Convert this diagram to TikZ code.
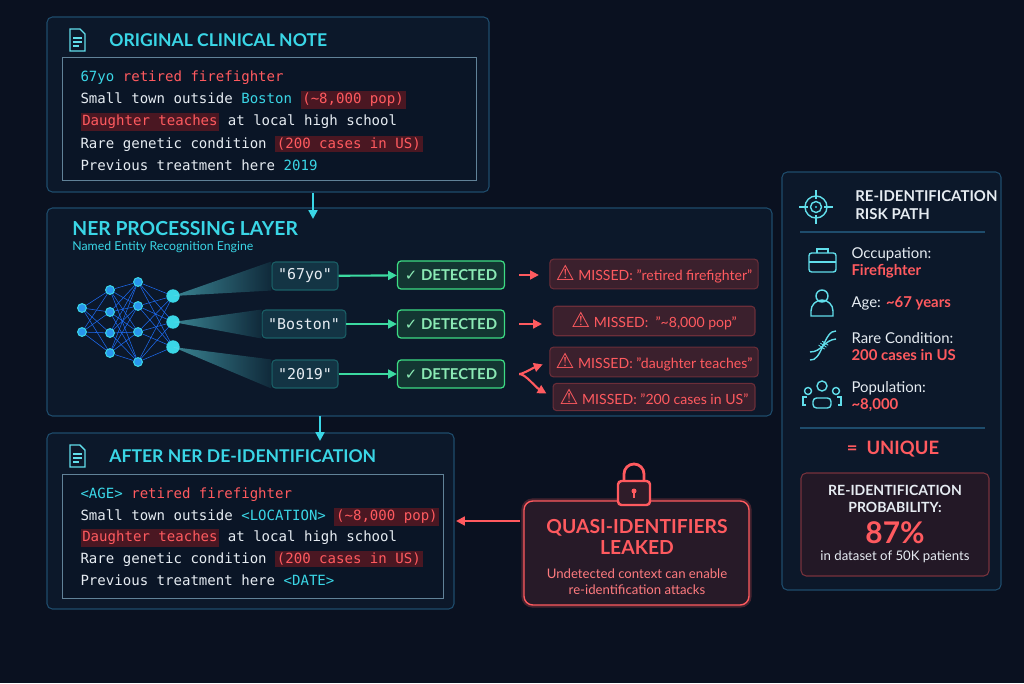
\documentclass[tikz,border=0pt]{standalone}
\usepackage{fontspec}
\setmainfont{Lato}
\setmonofont{DejaVu Sans Mono}
\newfontfamily\symfont{DejaVu Sans}
\usetikzlibrary{positioning,arrows.meta,shadings,calc}

\definecolor{bgnavy}{HTML}{0A1120}
\definecolor{boxfill}{HTML}{0C182A}
\definecolor{boxline}{HTML}{1E4C6C}
\definecolor{innerfill}{HTML}{0A1526}
\definecolor{ncyan}{HTML}{3AD6E6}
\definecolor{nred}{HTML}{FF5A5F}
\definecolor{hlred}{HTML}{4A1722}
\definecolor{ngreen}{HTML}{3DDC84}
\definecolor{ntext}{HTML}{E6ECF2}

\newcommand{\redhl}[1]{{\setlength{\fboxsep}{1pt}\colorbox{hlred}{\textcolor{nred}{#1}}}}
\newcommand{\cy}[1]{\textcolor{ncyan}{#1}}
\newcommand{\rd}[1]{\textcolor{nred}{#1}}

\begin{document}
\begin{tikzpicture}[
    x = 0.02cm, y = -0.02cm, % pixel grid, y going down
    > = {Triangle[length=5pt,width=5pt]},
    semithick
  ]

  \tikzstyle{panel} = [draw = boxline, fill = boxfill, rounded corners = 3pt, line width = 0.6pt]
  \tikzstyle{inner} = [draw = boxline!70, fill = innerfill, line width = 0.4pt]
  \tikzstyle{title} = [anchor = west, text = ncyan, font = \fontsize{10}{12}\selectfont\bfseries]
  \tikzstyle{code} = [anchor = west, inner sep = 0pt, text = ntext, font = \ttfamily\fontsize{8}{10}\selectfont]
  \tikzstyle{token} = [draw = ncyan!45!black, fill = ncyan!18!bgnavy, rounded corners = 2pt,
      text = ntext, font = \ttfamily\fontsize{8.5}{10}\selectfont, minimum height = 0.56cm, minimum width = 1.32cm]
  \tikzstyle{detected} = [draw = ngreen, fill = ngreen!18!bgnavy, rounded corners = 2pt, line width = 0.7pt,
      text = ngreen!60!white, font = \fontsize{8.5}{10}\selectfont\bfseries, minimum height = 0.56cm, minimum width = 2.14cm]
  \tikzstyle{missed} = [draw = nred!40!bgnavy, fill = nred!20!bgnavy, rounded corners = 2pt,
      text = nred, font = \fontsize{8}{10}\selectfont, minimum height = 0.5cm, minimum width = 4.04cm]
  \tikzstyle{neuron} = [circle, fill = ncyan!70!blue, draw = ncyan, inner sep = 0pt, minimum size = 5pt]
  \tikzstyle{flow} = [->, ncyan, line width = 1.2pt]
  \tikzstyle{leak} = [->, nred, line width = 1.2pt]
  \tikzstyle{icon} = [ncyan!80!white, line width = 0.8pt]
  \tikzstyle{label} = [anchor = west, text = ntext, font = \fontsize{8.5}{10}\selectfont, inner sep = 0pt]
  \tikzstyle{value} = [anchor = west, text = nred, font = \fontsize{8.5}{10}\selectfont\bfseries, inner sep = 0pt]

  % background
  \fill[bgnavy] (0,0) rectangle (1024,683);
  \useasboundingbox (0,0) rectangle (1024,683);

  % original note
  \draw[panel] (47,17) rectangle (489,192);
  \draw[icon] (70,29) -- (80,29) -- (85,34) -- (85,51) -- (70,51) -- cycle;
  \draw[icon] (73,38) -- (82,38) (73,42) -- (82,42) (73,46) -- (79,46);
  \node[title] (notetitle) at (103,40) {ORIGINAL CLINICAL NOTE};
  \draw[inner] (62,57) rectangle (476,180);
  \node[code] (n1) at (80,78) {\cy{67yo} \rd{retired firefighter}};
  \node[code] (n2) at (80,100) {Small town outside \cy{Boston} \redhl{(\textasciitilde8,000 pop)}};
  \node[code] (n3) at (80,122) {\redhl{Daughter teaches} at local high school};
  \node[code] (n4) at (80,144) {Rare genetic condition \redhl{(200 cases in US)}};
  \node[code] (n5) at (80,165) {Previous treatment here \cy{2019}};

  % NER layer
  \draw[panel] (47,208) rectangle (772,416);
  \node[title, font = \fontsize{11}{13}\selectfont\bfseries] (nertitle) at (66,229) {NER PROCESSING LAYER};
  \node[anchor = west, text = ncyan, font = \fontsize{7}{9}\selectfont] (nersub) at (66,247) {Named Entity Recognition Engine};

  \coordinate (noteout) at (313,193);
  \coordinate (nerin) at (313,219);
  \draw[flow] (noteout) -- (nerin);

  % network
  \foreach \i/\y in {1/308, 2/332} \node[neuron] (a\i) at (82,\y) {};
  \foreach \i/\y in {1/290, 2/312, 3/333, 4/353} \node[neuron] (b\i) at (110,\y) {};
  \foreach \i/\y in {1/282, 2/306, 3/332, 4/362} \node[neuron] (c\i) at (138,\y) {};
  \foreach \i/\y in {1/296, 2/322, 3/347} \node[neuron, minimum size = 7pt, fill = ncyan] (d\i) at (173,\y) {};
  \foreach \i in {1,2} \foreach \j in {1,...,4} \draw[ncyan!50!blue, line width = 0.3pt] (a\i) -- (b\j);
  \foreach \i in {1,...,4} \foreach \j in {1,...,4} \draw[ncyan!50!blue, line width = 0.3pt] (b\i) -- (c\j);
  \foreach \i in {1,...,4} \foreach \j in {1,2,3} \draw[ncyan!50!blue, line width = 0.3pt] (c\i) -- (d\j);

  \node[token] (t1) at (305,276) {"67yo"};
  \node[token, minimum width = 1.56cm] (t2) at (304,324) {"Boston"};
  \node[token] (t3) at (305,374) {"2019"};

  \foreach \i in {1,2,3}
    \shade[left color = ncyan!80, right color = ncyan!20!bgnavy, opacity = 0.55]
      (d\i.center) -- (t\i.north west) -- (t\i.south west) -- cycle;

  \node[detected] (k1) at (451,275) {{\symfont ✓} DETECTED};
  \node[detected] (k2) at (451,324) {{\symfont ✓} DETECTED};
  \node[detected] (k3) at (451,374) {{\symfont ✓} DETECTED};
  \foreach \i in {1,2,3} \draw[flow, ngreen!70!ncyan] (t\i) -- (k\i);

  \node[missed] (m1) at (654,274) {{\symfont\large ⚠} MISSED: "retired firefighter"};
  \node[missed] (m2) at (654,321) {{\symfont\large ⚠} MISSED: \ "\textasciitilde8,000 pop"};
  \node[missed] (m3) at (654,362) {{\symfont\large ⚠} MISSED: "daughter teaches"};
  \node[missed] (m4) at (654,397) {{\symfont\large ⚠} MISSED: "200 cases in US"};
  \draw[leak, shorten < = 8pt, shorten > = 6pt] (k1) -- (m1.west |- k1);
  \draw[leak, shorten < = 8pt, shorten > = 6pt] (k2) -- (m2.west |- k2);
  \draw[leak, shorten < = 8pt, shorten > = 4pt] (k3.east) to[out = 0, in = 200] (m3.west);
  \draw[leak, shorten < = 8pt, shorten > = 4pt] (k3.east) to[out = 0, in = 150] (m4.west);

  % after de-identification
  \draw[panel] (47,433) rectangle (454,609);
  \draw[icon] (70,445) -- (80,445) -- (85,450) -- (85,467) -- (70,467) -- cycle;
  \draw[icon] (73,454) -- (82,454) (73,458) -- (82,458) (73,462) -- (79,462);
  \node[title] (aftertitle) at (103,456) {AFTER NER DE-IDENTIFICATION};
  \draw[inner] (62,474) rectangle (443,598);
  \node[code] (r1) at (80,495) {\cy{<AGE>} \rd{retired firefighter}};
  \node[code] (r2) at (80,517) {Small town outside \cy{<LOCATION>} \redhl{(\textasciitilde8,000 pop)}};
  \node[code] (r3) at (80,538) {\redhl{Daughter teaches} at local high school};
  \node[code] (r4) at (80,559) {Rare genetic condition \redhl{(200 cases in US)}};
  \node[code] (r5) at (80,580) {Previous treatment here \cy{<DATE>}};

  \coordinate (nerout) at (320,416);
  \coordinate (afterin) at (320,441);
  \draw[flow] (nerout) -- (afterin);

  % leak box
  \draw[nred, line width = 3pt, opacity = 0.25, rounded corners = 5pt] (524,501) rectangle (749,605);
  \draw[nred, fill = nred!12!bgnavy, line width = 0.8pt, rounded corners = 5pt] (524,501) rectangle (749,605);
  \node[text = nred, font = \fontsize{11}{12}\selectfont\bfseries, align = center] (leaktitle) at (637,537) {QUASI-IDENTIFIERS\\LEAKED};
  \node[text = nred!80!white, font = \fontsize{7.5}{9}\selectfont, align = center] (leaksub) at (637,582) {Undetected context can enable\\re-identification attacks};
  \draw[nred, line width = 1.6pt] (624,482) -- (624,474) arc[start angle = 180, end angle = 360, radius = 10] -- (644,482);
  \draw[nred, line width = 1.4pt, fill = nred!15!bgnavy, rounded corners = 2pt] (618,481) rectangle (650,505);
  \fill[nred] (634,491) circle (2.5);
  \draw[nred, line width = 1.2pt] (634,492) -- (634,498);
  \coordinate (leakin) at (520,521);
  \coordinate (afterout) at (456,521);
  \draw[leak] (leakin) -- (afterout);

  % risk path
  \draw[panel] (782,172) rectangle (1001,590);
  \draw[icon] (816,207) circle (11) (816,207) circle (5.5);
  \fill[ncyan] (816,207) circle (1.2);
  \draw[icon] (799,207) -- (808,207) (824,207) -- (833,207) (816,190) -- (816,199) (816,215) -- (816,224);
  \node[anchor = west, text = ntext, font = \fontsize{8.5}{10.5}\selectfont\bfseries, align = left] (risktitle) at (849,205) {RE-IDENTIFICATION\\RISK PATH};
  \draw[boxline] (800,232) -- (985,232);

  % briefcase
  \draw[icon, rounded corners = 1.5pt] (809,253) rectangle (836,272);
  \draw[icon] (809,262) -- (836,262) (817,253) -- (817,249) -- (828,249) -- (828,253);
  \node[label] (occ) at (851,254) {Occupation:};
  \node[value] (occv) at (851,271) {Firefighter};
  % person
  \draw[icon] (822,296) circle (6);
  \draw[icon] (811,316) -- (811,311) arc[start angle = 180, end angle = 360, radius = 11] -- (833,316) -- cycle;
  \node[label] (age) at (851,303) {Age: \textcolor{nred}{\bfseries \textasciitilde67 years}};
  % dna
  \draw[icon] (810,360) .. controls (822,362) and (824,330) .. (836,331);
  \draw[icon] (810,352) .. controls (822,352) and (824,340) .. (836,339);
  \foreach \t in {0.3,0.45,0.6} \draw[icon, line width = 0.5pt] ($(818,351)!\t!(830,338)$) ++(-3,-2) -- ++(6,4);
  \node[label] (rare) at (851,338) {Rare Condition:};
  \node[value] (rarev) at (851,355) {200 cases in US};
  % people
  \draw[icon] (822,386) circle (5) (808,391) circle (3.5) (836,391) circle (3.5);
  \draw[icon, rounded corners = 2pt] (813,408) -- (813,398) -- (831,398) -- (831,408) -- cycle;
  \draw[icon] (806,405) -- (803,405) -- (803,397) -- (807,397) (838,405) -- (841,405) -- (841,397) -- (837,397);
  \node[label] (pop) at (851,388) {Population:};
  \node[value] (popv) at (851,405) {\textasciitilde8,000};
  \draw[boxline] (800,428) -- (985,428);
  \node[text = nred, font = \fontsize{10.5}{12}\selectfont\bfseries] (unique) at (893,449) {= \ UNIQUE};

  \draw[nred!45!bgnavy, fill = nred!10!bgnavy, rounded corners = 3pt] (801,473) rectangle (989,576);
  \node[text = ntext, font = \fontsize{8}{10}\selectfont\bfseries, align = center] (probtitle) at (895,499) {RE-IDENTIFICATION\\PROBABILITY:};
  \node[text = nred, font = \fontsize{17}{18}\selectfont\bfseries] (prob) at (895,533) {87\%};
  \node[text = ntext, font = \fontsize{7.5}{9}\selectfont] (probsub) at (895,557) {in dataset of 50K patients};
\end{tikzpicture}
\end{document}
